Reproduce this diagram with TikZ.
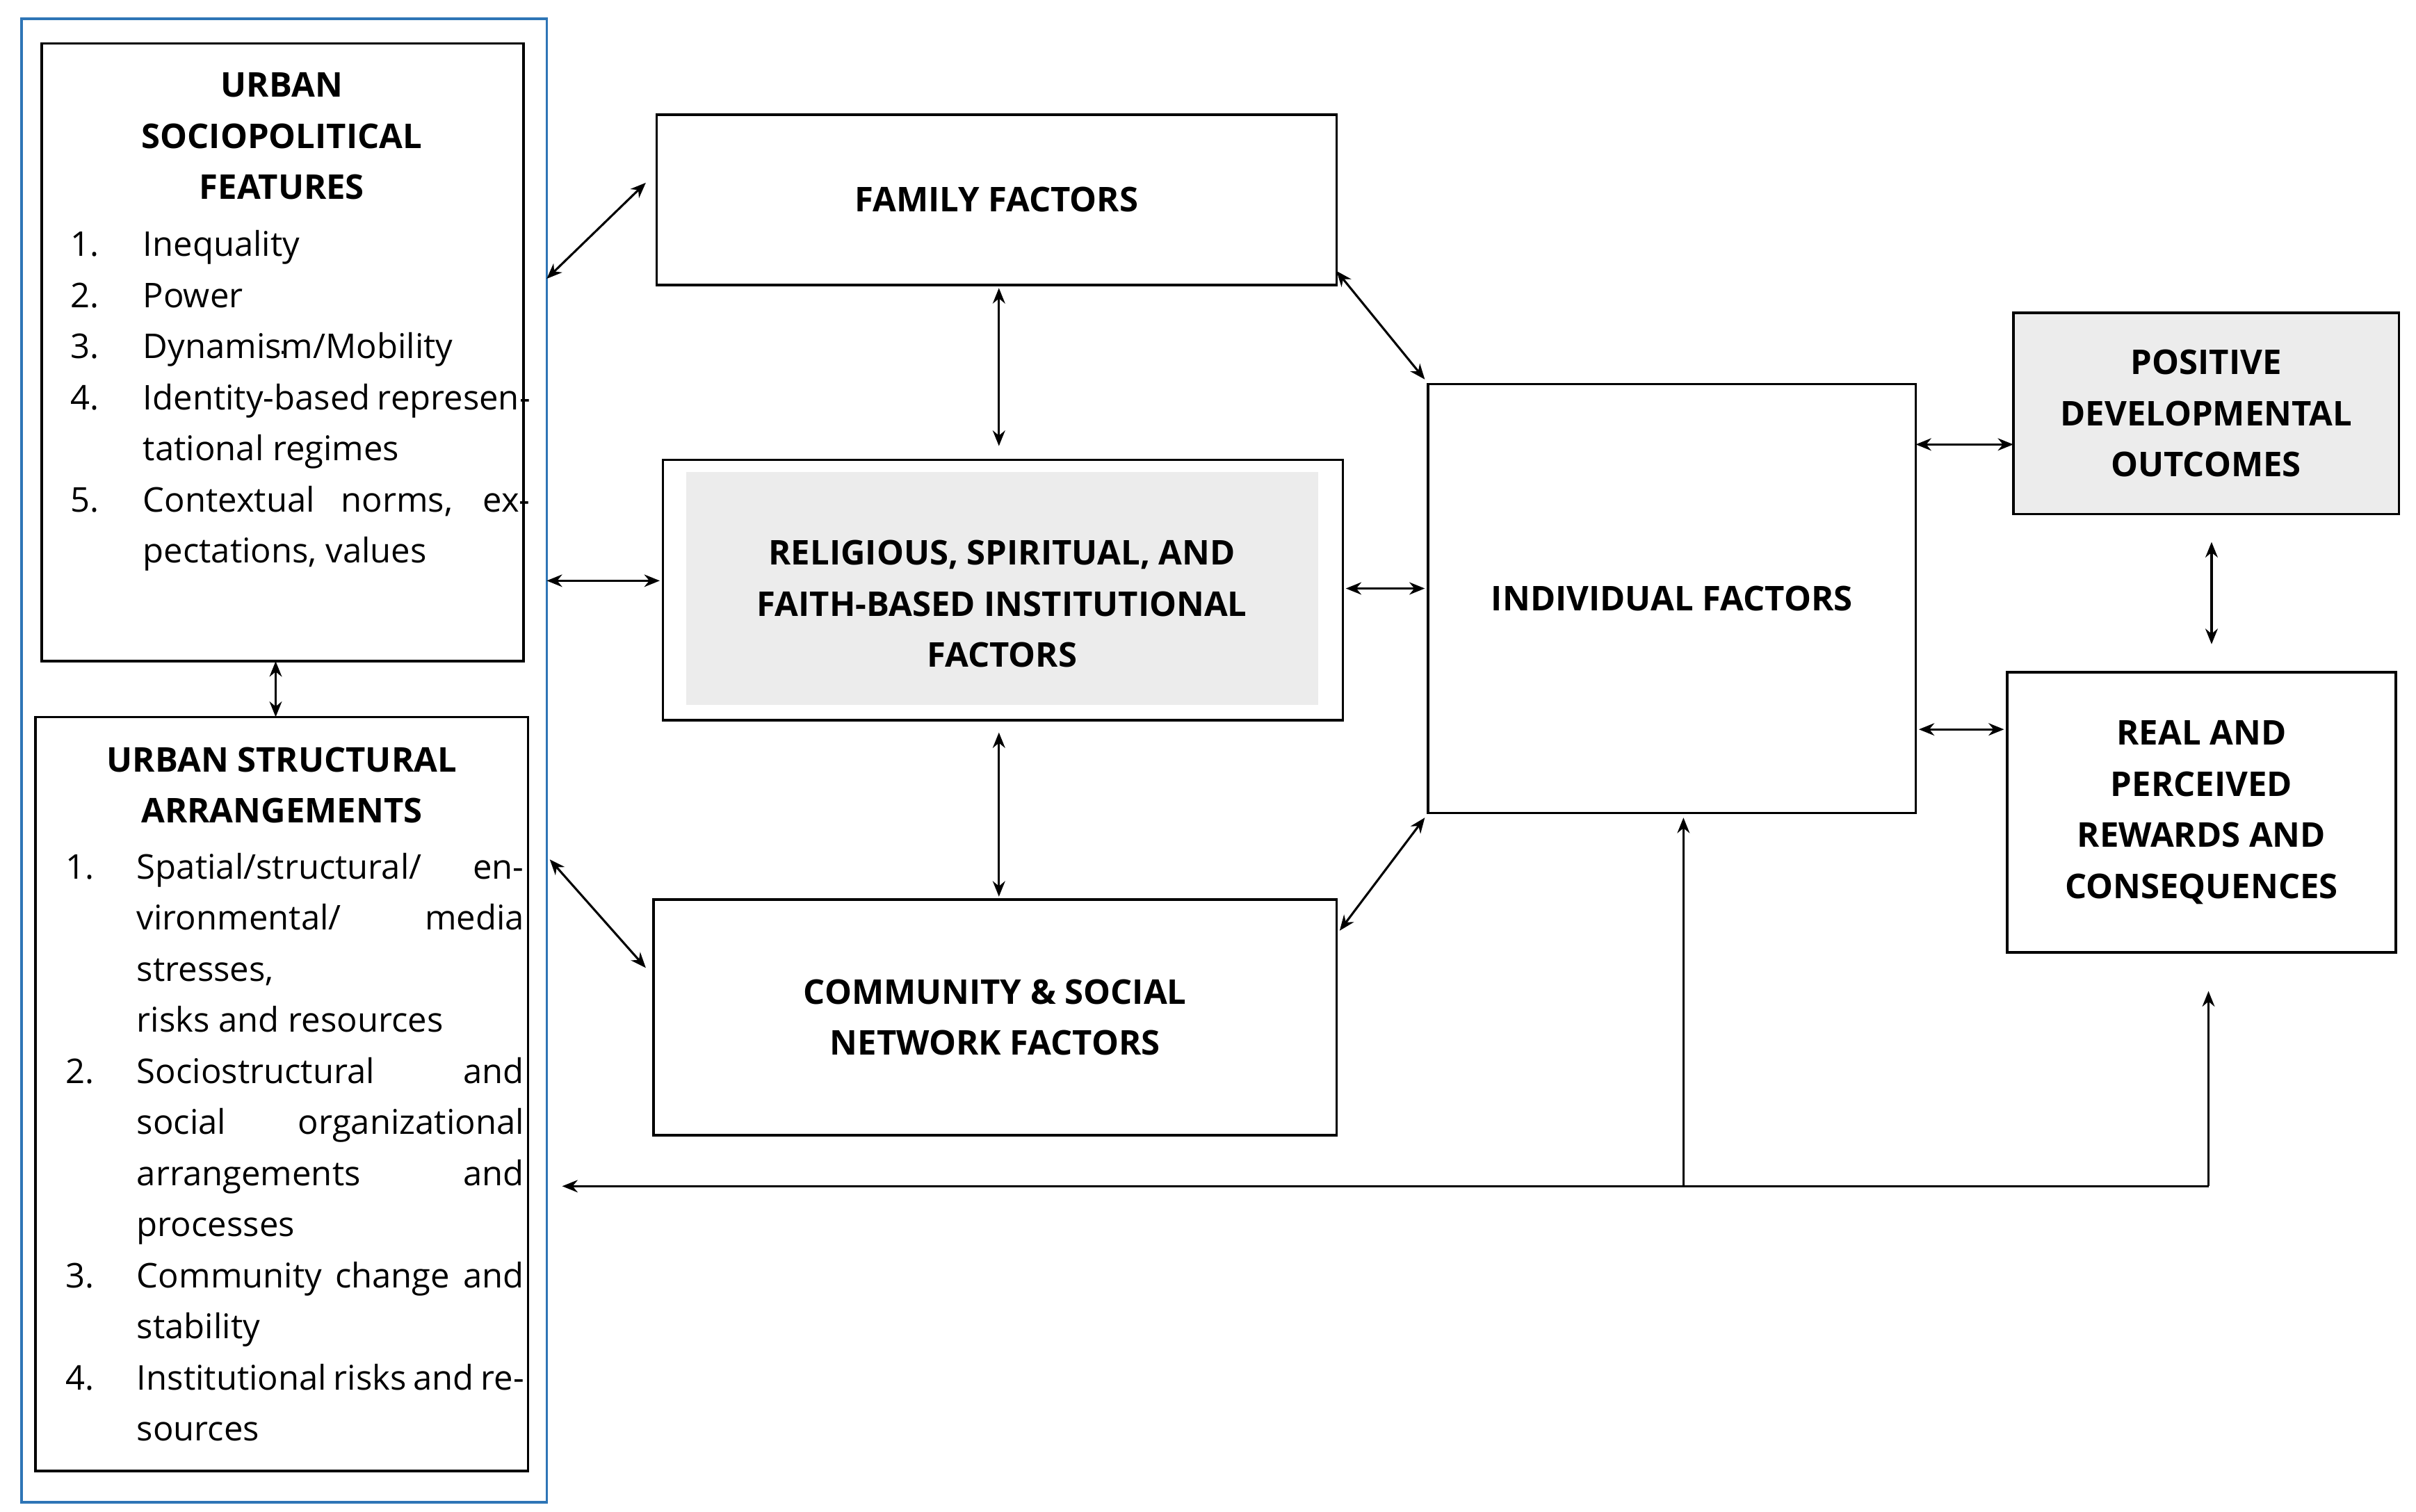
\documentclass[tikz,border=0pt]{standalone}
\usepackage{fontspec}
\setmainfont{Open Sans}
\usetikzlibrary{arrows.meta}
\begin{document}
\begin{tikzpicture}[x=0.5pt,y=-0.5pt,
  box/.style={draw=black,line width=0.8pt},
  ttl/.style={font=\fontsize{11}{16.5}\selectfont\bfseries,align=center},
  lst/.style={font=\fontsize{11}{16.5}\selectfont,anchor=north west,inner sep=0pt},
  arr/.style={{Stealth[length=5pt,width=4pt]}-{Stealth[length=5pt,width=4pt]},line width=0.7pt},
  one/.style={-{Stealth[length=5pt,width=4pt]},line width=0.7pt}]
\useasboundingbox (0,0) rectangle (1560,976);
\newcommand{\itm}[2]{\makebox[#1pt][l]{#2}}
% outer blue
\draw[draw={rgb,255:red,46;green,117;blue,182},line width=0.8pt] (14,12) rectangle (353,970);
% boxes
\draw[box] (27,28) rectangle (338,427) coordinate (sociobr);
\node[box,minimum width=0,inner sep=0] (socio) at (182.5,227.5) {};
\node[ttl] (sociot) at (182,88) {URBAN\\SOCIOPOLITICAL\\FEATURES};
\node[lst] (sociol) at (45,142) {\begin{tabular}{@{}p{23.5pt}@{}p{125pt}@{}}
1.&Inequality\\ 2.&Power\\ 3.&Dynamism/Mobility\\ 4.&Identity-based representational regimes\\ 5.&Contextual norms, expectations, values\end{tabular}};
\draw[box] (23,463) rectangle (341,950);
\node[ttl] (structt) at (182,507) {URBAN STRUCTURAL\\ARRANGEMENTS};
\node[lst] (structl) at (42,544) {\begin{tabular}{@{}p{23pt}@{}p{125pt}@{}}
1.&Spatial/structural/ environmental/ media stresses,\\ &risks and resources\\ 2.&Sociostructural and social organizational arrangements and processes\\ 3.&Community change and stability\\ 4.&Institutional risks and resources\end{tabular}};
\node[box,minimum width=219.5pt,minimum height=55pt,ttl] (fam) at (643.5,129) {FAMILY FACTORS};
\node[box,minimum width=219.5pt,minimum height=84pt] (rel) at (647.5,381) {};
\fill[gray!15] (443,305) rectangle (851,455);
\node[ttl] (relt) at (647,390) {RELIGIOUS, SPIRITUAL, AND\\FAITH-BASED INSTITUTIONAL\\FACTORS};
\node[box,minimum width=220.5pt,minimum height=76pt,ttl] (com) at (642.5,657) {COMMUNITY \& SOCIAL\\NETWORK FACTORS};
\node[box,minimum width=157.5pt,minimum height=138.5pt,ttl] (ind) at (1079.5,386.5) {INDIVIDUAL FACTORS};
\node[box,fill=gray!15,minimum width=124.5pt,minimum height=65pt,ttl] (pos) at (1424.5,267) {POSITIVE\\DEVELOPMENTAL\\OUTCOMES};
\node[box,minimum width=125.5pt,minimum height=90.5pt,ttl] (real) at (1421.5,524.5) {REAL AND\\PERCEIVED\\REWARDS AND\\CONSEQUENCES};
% arrows
\draw[arr] (353,180) -- (417,118);
\draw[arr] (353,375) -- (426,375);
\draw[arr] (178,427) -- (178,463);
\draw[arr] (355,555) -- (417,625);
\draw[arr] (645,186) -- (645,288);
\draw[arr] (645,473) -- (645,579);
\draw[arr] (863,175) -- (920,245);
\draw[arr] (869,380) -- (920,380);
\draw[arr] (865,601) -- (920,528);
\draw[arr] (1237,287) -- (1300,287);
\draw[arr] (1239,471) -- (1294,471);
\draw[arr] (1428,350) -- (1428,416);
\coordinate (fr) at (1426,766);
\coordinate (fm) at (1087,766);
\coordinate (fl) at (363,766);
\draw[one] (fr) -- (fl);
\draw[one] (fr) -- (1426,640);
\draw[one] (fm) -- (1087,528);
\end{tikzpicture}
\end{document}
